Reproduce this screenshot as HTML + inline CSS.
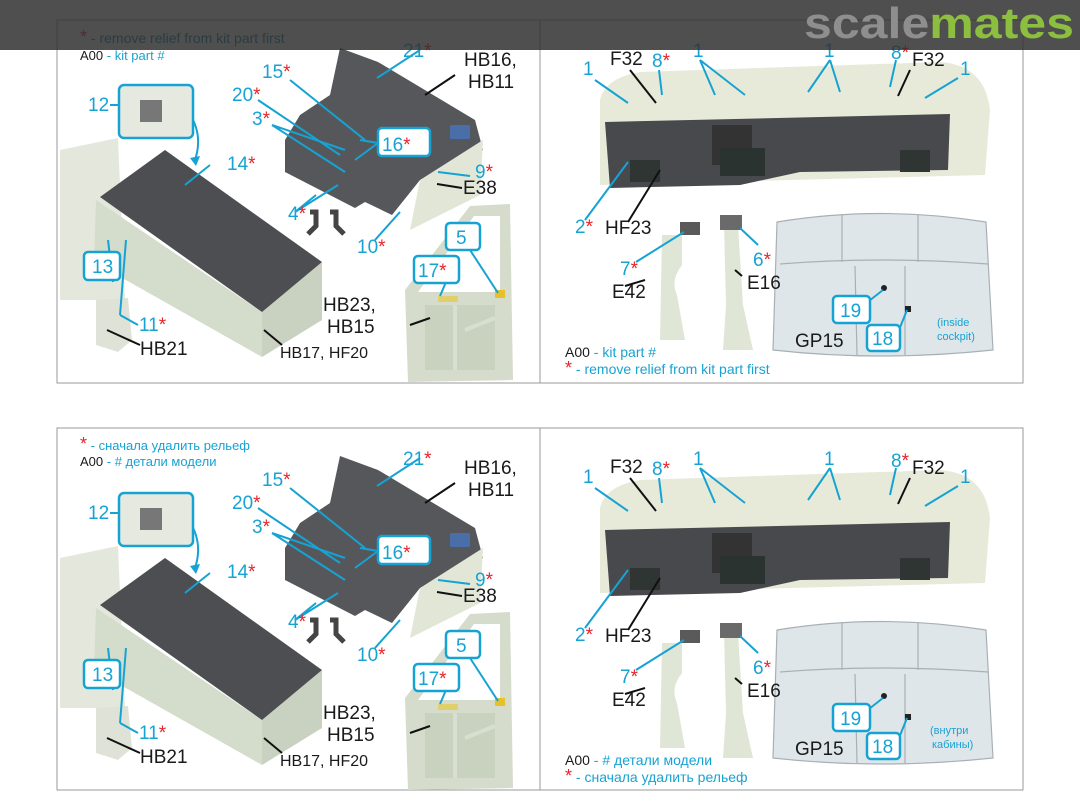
<!DOCTYPE html>
<html><head><meta charset="utf-8"><style>
html,body{margin:0;padding:0;background:#fff;}
svg{display:block;font-family:"Liberation Sans","DejaVu Sans",sans-serif;}
.c{fill:#16a3d3}.r{fill:#e8232b}.k{fill:#1a1a1a}
.lc{stroke:#16a3d3;stroke-width:2;fill:none}.lk{stroke:#111;stroke-width:2;fill:none}
.bx{stroke:#16a3d3;stroke-width:2.5;fill:#fff}
.t18{font-size:19px}.t14{font-size:14px}.t13{font-size:13px}
</style></head><body>
<svg width="1080" height="810" viewBox="0 0 1080 810" xmlns="http://www.w3.org/2000/svg">
<defs>
<g id="shapes">
  <!-- left panel -->
  <polygon points="60,150 118,138 125,300 60,300" fill="#e4e8dc"/>
  <polygon points="96,200 262,312 262,357 94,262" fill="#d4dccb"/>
  <polygon points="262,312 322,262 322,320 262,357" fill="#c9d1c0"/>
  <polygon points="100,197 165,150 322,262 262,312" fill="#4d4e52"/>
  <polygon points="96,300 128,298 132,340 118,352 96,345" fill="#dfe3d7"/>
  <polygon points="340,48 378,62 475,120 483,150 420,180 392,215 365,202 355,208 285,172 285,140 300,115 330,95" fill="#56575b"/>
  <polygon points="420,180 483,140 480,195 410,230" fill="#e1e6d6"/>
  <rect x="450" y="125" width="20" height="14" fill="#4a6fa8"/>
  <path d="M310,212 l6,0 l0,14 l-8,8 M330,212 l6,0 l0,14 l8,8" stroke="#444" stroke-width="5" fill="none"/>
  <path d="M405,290 L470,206 L510,204 L513,380 L408,382 Z" fill="#d5dccb"/>
  <path d="M418,292 L474,216 L500,216 L500,292 Z" fill="#fff"/>
  <path d="M425,305 L425,370 L495,370 L495,305 Z" fill="#c9d1bf"/>
  <path d="M455,305 L455,370 M465,330 L495,318" stroke="#d9dfcf" stroke-width="4"/>
  <rect x="495" y="290" width="10" height="8" fill="#e8c02a"/>
  <rect x="438" y="296" width="20" height="6" fill="#e0cf6a"/>
  <!-- right panel -->
  <path d="M600,100 Q605,78 640,72 L940,62 Q985,65 990,110 L985,175 L600,185 Z" fill="#e8ead9"/>
  <path d="M605,122 L950,114 L948,170 L800,172 L740,185 L610,188 Z" fill="#48494d"/>
  <rect x="712" y="125" width="40" height="40" fill="#333"/>
  <rect x="720" y="148" width="45" height="28" fill="#2a3330"/>
  <rect x="900" y="150" width="30" height="22" fill="#2e3532"/>
  <rect x="630" y="160" width="30" height="22" fill="#2e3532"/>
  <path d="M662,235 l20,0 l0,30 q-12,15 -5,30 l8,45 l-25,0 z" fill="#dfe6d5"/>
  <path d="M724,225 l14,0 l5,80 l10,45 l-30,0 l3,-45 z" fill="#dfe6d5"/>
  <rect x="680" y="222" width="20" height="13" fill="#5a5a5a"/>
  <rect x="720" y="215" width="22" height="15" fill="#6a6a6a"/>
  <path d="M777,222 Q880,205 986,222 L993,350 Q880,362 773,350 Z" fill="#dfe6ea" stroke="#a8b0b6" stroke-width="1.2"/>
  <path d="M780,264 Q880,256 988,264 M855,266 L857,355 M905,266 L905,355 M842,215 L842,262 M918,215 L918,262" stroke="#a8b0b6" stroke-width="1.2" fill="none"/>
  <circle cx="884" cy="288" r="3" fill="#222"/><rect x="905" y="306" width="6" height="6" fill="#222"/>
</g>
</defs>

<rect x="57" y="20" width="966" height="363" fill="none" stroke="#999" stroke-width="1"/>
<line x1="540" y1="20" x2="540" y2="383" stroke="#999"/>
<rect x="57" y="428" width="966" height="362" fill="none" stroke="#999" stroke-width="1"/>
<line x1="540" y1="428" x2="540" y2="790" stroke="#999"/>
<use href="#shapes"/>
<use href="#shapes" y="408"/>

<g id="lines">
  <path class="lc" d="M377,78 L420,50 M290,80 L365,140 M258,100 L340,155 M272,125 L345,150 M272,125 L345,172 M295,212 L316,195 M295,212 L338,185 M375,240 L400,212 M470,176 L438,172 M110,105 L125,105 M210,165 L185,185 M113,282 L108,240 M120,315 L126,240 M138,325 L120,315 M440,296 L446,282 M470,250 L498,293 M378,143 L360,140 M378,143 L355,160 M595,80 L628,103 M659,70 L662,95 M700,60 L715,95 M700,60 L745,95 M830,60 L808,92 M830,60 L840,92 M896,60 L890,87 M958,78 L925,98 M585,220 L628,162 M636,262 L684,232 M758,245 L740,228 M860,308 L883,290 M897,335 L907,310"/>
  <path class="lk" d="M425,95 L455,75 M437,184 L462,188 M410,325 L430,318 M264,330 L282,345 M107,330 L140,345 M630,70 L656,103 M910,70 L898,96 M628,222 L660,170 M625,286 L645,280 M742,276 L735,270"/>
  <path class="lc" d="M183,105 Q205,130 195,160" /><path d="M190,158 l6,8 l4,-10 z" fill="#16a3d3"/>
  <rect class="bx" x="119" y="85" width="74" height="53" rx="5" style="fill:#e6e9df"/>
  <rect x="140" y="100" width="22" height="22" fill="#777"/>
  <rect class="bx" x="84" y="252" width="36" height="28" rx="4"/>
  <rect class="bx" x="378" y="128" width="52" height="28" rx="4"/>
  <rect class="bx" x="446" y="223" width="34" height="27" rx="4"/>
  <rect class="bx" x="414" y="256" width="45" height="27" rx="4"/>
  <rect class="bx" x="833" y="296" width="37" height="27" rx="4"/>
  <rect class="bx" x="867" y="325" width="33" height="26" rx="4"/>
</g>
<use href="#lines" y="408"/>

<g>
<text x="80" y="43" class="t14"><tspan class="r" font-size="18">*</tspan><tspan fill="#0b7f9e"> - remove relief from kit part first</tspan></text>
<text x="80" y="60" class="t13"><tspan class="k">A00</tspan><tspan class="c"> - kit part #</tspan></text>
<g class="t18">
<text x="403" y="57"><tspan class="c">21</tspan><tspan class="r">*</tspan></text>
<text x="464" y="66" class="k">HB16,</text><text x="468" y="88" class="k">HB11</text>
<text x="262" y="78"><tspan class="c">15</tspan><tspan class="r">*</tspan></text>
<text x="232" y="101"><tspan class="c">20</tspan><tspan class="r">*</tspan></text>
<text x="252" y="125"><tspan class="c">3</tspan><tspan class="r">*</tspan></text>
<text x="88" y="111" class="c">12</text>
<text x="382" y="151"><tspan class="c">16</tspan><tspan class="r">*</tspan></text>
<text x="227" y="170"><tspan class="c">14</tspan><tspan class="r">*</tspan></text>
<text x="475" y="178"><tspan class="c">9</tspan><tspan class="r">*</tspan></text>
<text x="463" y="194" class="k">E38</text>
<text x="288" y="220"><tspan class="c">4</tspan><tspan class="r">*</tspan></text>
<text x="357" y="253"><tspan class="c">10</tspan><tspan class="r">*</tspan></text>
<text x="456" y="244" class="c">5</text>
<text x="418" y="277"><tspan class="c">17</tspan><tspan class="r">*</tspan></text>
<text x="92" y="273" class="c">13</text>
<text x="323" y="311" class="k">HB23,</text><text x="327" y="333" class="k">HB15</text>
<text x="139" y="331"><tspan class="c">11</tspan><tspan class="r">*</tspan></text>
<text x="140" y="355" class="k">HB21</text>
<text x="280" y="358" class="k" font-size="16">HB17, HF20</text>
<text x="583" y="75" class="c">1</text><text x="610" y="65" class="k">F32</text>
<text x="652" y="67"><tspan class="c">8</tspan><tspan class="r">*</tspan></text>
<text x="693" y="57" class="c">1</text><text x="824" y="57" class="c">1</text>
<text x="891" y="59"><tspan class="c">8</tspan><tspan class="r">*</tspan></text>
<text x="912" y="66" class="k">F32</text><text x="960" y="75" class="c">1</text>
<text x="575" y="233"><tspan class="c">2</tspan><tspan class="r">*</tspan></text>
<text x="605" y="234" class="k">HF23</text>
<text x="620" y="275"><tspan class="c">7</tspan><tspan class="r">*</tspan></text>
<text x="612" y="298" class="k">E42</text>
<text x="753" y="266"><tspan class="c">6</tspan><tspan class="r">*</tspan></text>
<text x="747" y="289" class="k">E16</text>
<text x="840" y="317" class="c">19</text><text x="872" y="345" class="c">18</text>
<text x="795" y="347" class="k">GP15</text>
</g>
<text x="937" y="326" class="c" font-size="11">(inside</text><text x="937" y="340" class="c" font-size="11">cockpit)</text>
<text x="565" y="357" class="t14"><tspan class="k">A00</tspan><tspan class="c"> - kit part #</tspan></text>
<text x="565" y="374" class="t14"><tspan class="r" font-size="18">*</tspan><tspan class="c"> - remove relief from kit part first</tspan></text>
</g>

<g transform="translate(0,408)">
<text x="80" y="42" class="t13"><tspan class="r" font-size="18">*</tspan><tspan class="c"> - сначала удалить рельеф</tspan></text>
<text x="80" y="58" class="t13"><tspan class="k">A00</tspan><tspan class="c"> - # детали модели</tspan></text>
<g class="t18">
<text x="403" y="57"><tspan class="c">21</tspan><tspan class="r">*</tspan></text>
<text x="464" y="66" class="k">HB16,</text><text x="468" y="88" class="k">HB11</text>
<text x="262" y="78"><tspan class="c">15</tspan><tspan class="r">*</tspan></text>
<text x="232" y="101"><tspan class="c">20</tspan><tspan class="r">*</tspan></text>
<text x="252" y="125"><tspan class="c">3</tspan><tspan class="r">*</tspan></text>
<text x="88" y="111" class="c">12</text>
<text x="382" y="151"><tspan class="c">16</tspan><tspan class="r">*</tspan></text>
<text x="227" y="170"><tspan class="c">14</tspan><tspan class="r">*</tspan></text>
<text x="475" y="178"><tspan class="c">9</tspan><tspan class="r">*</tspan></text>
<text x="463" y="194" class="k">E38</text>
<text x="288" y="220"><tspan class="c">4</tspan><tspan class="r">*</tspan></text>
<text x="357" y="253"><tspan class="c">10</tspan><tspan class="r">*</tspan></text>
<text x="456" y="244" class="c">5</text>
<text x="418" y="277"><tspan class="c">17</tspan><tspan class="r">*</tspan></text>
<text x="92" y="273" class="c">13</text>
<text x="323" y="311" class="k">HB23,</text><text x="327" y="333" class="k">HB15</text>
<text x="139" y="331"><tspan class="c">11</tspan><tspan class="r">*</tspan></text>
<text x="140" y="355" class="k">HB21</text>
<text x="280" y="358" class="k" font-size="16">HB17, HF20</text>
<text x="583" y="75" class="c">1</text><text x="610" y="65" class="k">F32</text>
<text x="652" y="67"><tspan class="c">8</tspan><tspan class="r">*</tspan></text>
<text x="693" y="57" class="c">1</text><text x="824" y="57" class="c">1</text>
<text x="891" y="59"><tspan class="c">8</tspan><tspan class="r">*</tspan></text>
<text x="912" y="66" class="k">F32</text><text x="960" y="75" class="c">1</text>
<text x="575" y="233"><tspan class="c">2</tspan><tspan class="r">*</tspan></text>
<text x="605" y="234" class="k">HF23</text>
<text x="620" y="275"><tspan class="c">7</tspan><tspan class="r">*</tspan></text>
<text x="612" y="298" class="k">E42</text>
<text x="753" y="266"><tspan class="c">6</tspan><tspan class="r">*</tspan></text>
<text x="747" y="289" class="k">E16</text>
<text x="840" y="317" class="c">19</text><text x="872" y="345" class="c">18</text>
<text x="795" y="347" class="k">GP15</text>
</g>
<text x="930" y="326" class="c" font-size="11">(внутри</text><text x="932" y="340" class="c" font-size="11">кабины)</text>
<text x="565" y="357" class="t14"><tspan class="k">A00</tspan><tspan class="c"> - # детали модели</tspan></text>
<text x="565" y="374" class="t14"><tspan class="r" font-size="18">*</tspan><tspan class="c"> - сначала удалить рельеф</tspan></text>
</g>

<rect x="0" y="0" width="1080" height="50" fill="rgba(48,48,48,0.85)"/>
<text x="804" y="38" font-size="44" font-weight="bold" textLength="270" lengthAdjust="spacingAndGlyphs"><tspan fill="#8e8e8e">scale</tspan><tspan fill="#8cbf3f">mates</tspan></text>
</svg>
</body></html>
